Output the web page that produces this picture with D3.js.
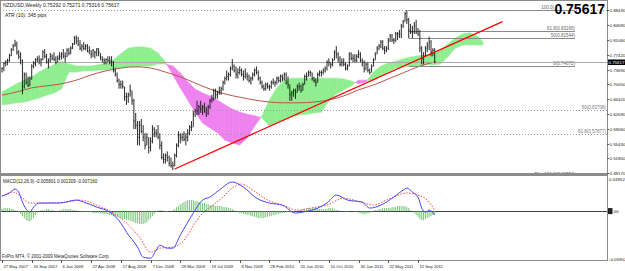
<!DOCTYPE html>
<html>
<head>
<meta charset="utf-8">
<script src="https://cdn.jsdelivr.net/npm/d3@7"></script>
<style>
  html, body { margin: 0; padding: 0; background: #fff; }
  svg { display: block; font-family: Arial, "Liberation Sans", sans-serif; }
</style>
</head>
<body>
<svg id="chart" width="625" height="271"></svg>
<script>
// ---- weekly NZDUSD bars, 27 May 2007 .. 13 Nov 2011 (one value per week) ----
var closes = [
  .740,.752,.756,.760,.772,.786,.796,.800,.780,.770,
  .760,.696,.725,.705,.698,.715,.746,.752,.762,.763,
  .760,.762,.780,.770,.756,.760,.770,.765,.762,.755,
  .765,.770,.775,.770,.770,.785,.778,.790,.800,.815,
  .808,.800,.790,.795,.790,.795,.782,.785,.775,.785,
  .780,.788,.780,.768,.762,.760,.762,.760,.758,.755,
  .735,.725,.710,.700,.700,.695,.670,.670,.675,.685,
  .660,.610,.600,.570,.600,.585,.570,.550,.570,.545,
  .560,.590,.580,.580,.570,.550,.520,.515,.525,.520,
  .505,.500,.500,.525,.550,.575,.570,.570,.565,.570,
  .580,.595,.595,.625,.635,.635,.645,.640,.645,.635,
  .630,.645,.660,.665,.685,.675,.680,.685,.690,.705,
  .715,.720,.725,.740,.745,.735,.725,.730,.735,.725,
  .720,.725,.720,.710,.715,.725,.735,.730,.715,.705,
  .695,.690,.700,.695,.695,.705,.705,.705,.715,.710,
  .720,.715,.725,.705,.700,.675,.680,.685,.680,.695,
  .695,.685,.700,.720,.720,.730,.730,.715,.710,.705,
  .725,.730,.730,.735,.740,.755,.755,.750,.760,.780,
  .775,.765,.750,.755,.750,.740,.745,.775,.765,.765,
  .760,.770,.775,.760,.755,.740,.750,.735,.730,.745,
  .760,.775,.790,.795,.805,.790,.785,.790,.810,.820,
  .810,.810,.825,.825,.825,.845,.855,.875,.860,.835,
  .830,.830,.845,.830,.825,.790,.765,.770,.790,.795,
  .805,.780,.785,.75617
];
var highs = [
  .743,.755,.760,.764,.776,.790,.800,.8106,.806,.785,
  .780,.762,.730,.730,.720,.720,.750,.758,.765,.770,
  .772,.765,.785,.788,.776,.765,.778,.775,.780,.770,
  .772,.780,.780,.788,.780,.790,.790,.795,.803,.820,
  .8214,.818,.810,.800,.805,.800,.800,.795,.785,.788,
  .783,.790,.790,.778,.770,.765,.765,.770,.770,.770,
  .758,.740,.730,.715,.710,.710,.695,.680,.680,.700,
  .685,.665,.630,.610,.610,.615,.600,.580,.580,.570,
  .570,.600,.595,.590,.600,.580,.560,.530,.530,.535,
  .525,.520,.510,.530,.555,.585,.580,.580,.585,.580,
  .590,.600,.610,.635,.640,.660,.650,.660,.650,.655,
  .645,.650,.665,.675,.690,.690,.685,.695,.695,.710,
  .720,.735,.730,.745,.763,.750,.745,.740,.745,.740,
  .735,.740,.730,.725,.720,.730,.740,.745,.735,.720,
  .710,.700,.705,.705,.700,.710,.715,.710,.720,.720,
  .725,.725,.730,.730,.720,.700,.685,.690,.690,.700,
  .705,.700,.705,.725,.730,.735,.735,.730,.720,.715,
  .730,.735,.735,.740,.745,.760,.765,.755,.765,.785,
  .795,.780,.770,.765,.765,.755,.750,.780,.780,.775,
  .775,.775,.785,.780,.765,.760,.755,.755,.740,.750,
  .765,.780,.795,.800,.810,.810,.795,.795,.815,.825,
  .825,.815,.830,.830,.835,.850,.860,.880,.8843,.865,
  .850,.845,.855,.860,.840,.835,.795,.780,.795,.805,
  .818,.810,.790,.790
];
var lows = [
  .730,.733,.745,.748,.756,.770,.783,.793,.774,.763,
  .750,.6763,.690,.700,.694,.696,.712,.740,.745,.755,
  .750,.745,.760,.765,.752,.740,.755,.760,.758,.750,
  .755,.760,.762,.765,.755,.768,.772,.775,.788,.798,
  .800,.795,.785,.782,.785,.785,.780,.775,.765,.768,
  .765,.770,.770,.760,.755,.750,.750,.755,.750,.745,
  .730,.720,.705,.690,.690,.690,.660,.650,.655,.670,
  .650,.590,.590,.550,.550,.580,.560,.540,.550,.530,
  .535,.555,.570,.570,.565,.540,.515,.505,.505,.510,
  .498,.495,.489,.498,.520,.545,.555,.560,.560,.550,
  .560,.575,.585,.595,.620,.625,.625,.630,.625,.630,
  .620,.625,.640,.655,.660,.665,.665,.675,.675,.685,
  .700,.710,.710,.720,.735,.730,.715,.715,.725,.720,
  .710,.715,.710,.705,.700,.710,.720,.725,.710,.700,
  .690,.685,.685,.690,.685,.690,.700,.695,.700,.705,
  .705,.708,.710,.700,.690,.660,.660,.670,.665,.680,
  .685,.680,.685,.700,.710,.720,.720,.710,.705,.695,
  .705,.720,.720,.725,.730,.735,.745,.740,.745,.760,
  .765,.755,.745,.745,.745,.735,.735,.745,.760,.755,
  .755,.755,.765,.755,.745,.730,.735,.730,.725,.730,
  .745,.760,.775,.785,.790,.785,.775,.780,.785,.805,
  .805,.800,.805,.810,.815,.815,.840,.855,.850,.815,
  .825,.815,.825,.825,.820,.780,.750,.750,.770,.780,
  .785,.770,.770,.753
];

// ---- Ichimoku cloud, read every 4 weeks (bar index, span A, span B) ----
var cloudBars = [0,4,8,12,16,20,24,28,32,36,40,44,48,52,56,60,64,68,72,76,80,84,88,92,96,
  100,104,108,112,116,120,124,128,132,136,140,144,148,152,156,160,164,168,172,176,180,
  184,188,192,196,200,204,208,212,216,220,224,228,232,236,240,244,248,252,256,259];
var spanA = [.682,.692,.702,.711,.719,.731,.741,.749,.758,.751,.746,.746,.746,.749,.753,
  .761,.776,.790,.793,.793,.790,.778,.756,.724,.692,.662,.632,.605,.593,.581,.563,.556,
  .551,.568,.598,.623,.662,.692,.711,.716,.716,.716,.716,.716,.716,.716,.714,.709,.702,
  .707,.731,.746,.753,.758,.763,.768,.771,.773,.778,.785,.800,.815,.825,.828,.820,.805];
var spanB = [.650,.652,.655,.657,.662,.667,.674,.679,.689,.731,.731,.734,.734,.736,.736,
  .739,.741,.744,.744,.746,.746,.751,.751,.746,.729,.707,.689,.679,.672,.662,.650,.640,
  .632,.627,.623,.618,.598,.605,.613,.620,.625,.627,.630,.632,.660,.677,.687,.697,.711,
  .711,.711,.721,.731,.741,.744,.746,.746,.749,.749,.751,.768,.790,.798,.798,.798,.798];

// ---- moving average, read every 8 weeks ----
var maBars = [0,8,16,24,32,40,48,56,64,72,80,88,96,104,112,120,128,136,144,152,160,168,
  176,184,192,200,208,216,224,233];
var maValues = [.674,.682,.692,.697,.702,.711,.724,.734,.741,.744,.741,.731,.719,.704,.689,
  .677,.669,.662,.657,.655,.655,.657,.662,.672,.687,.699,.714,.729,.744,.756];

// ---- trend line (bar, price) ----
var trendBars = [93, 269.5];
var trendPrices = [0.4916, 0.8554];

// ---- Fibonacci levels ----
var fibSolidPrices = [0.88430, 0.83166, 0.81544, 0.74672];
var fibSolidNames = ["100.0", "61.8", "50", "0"];
var fibDotPrices = [0.88430, 0.63708, 0.57877];
var fibDotNames = ["0.0", "50", "61.8"];

// ---- MACD (values x 0.001) ----
var macdMain = [[0,18.5],[4,22.2],[7,27.1],[9,23.4],[11,11.1],[15,-1.2],[17,4.9],[20,9.9],
  [31,9.9],[40,13.6],[44,11.1],[51,4.9],[58,-1.2],[64,-14.8],[67,-25.9],[73,-44.4],[76,-56.8],
  [80,-58.0],[83,-48.1],[85,-42.0],[89,-45.7],[92,-45.7],[96,-29.6],[103,-2.5],[108,13.6],
  [112,17.3],[117,25.9],[124,35.8],[130,29.6],[137,16.0],[144,9.9],[151,7.4],[158,-2.5],
  [162,-1.2],[170,3.7],[175,9.9],[180,19.7],[186,13.6],[194,11.1],[198,3.7],[204,7.4],
  [211,17.3],[216,25.9],[218,28.4],[221,23.4],[224,17.3],[226,3.7],[228,-1.2],[230,1.2],[233,-4.9]];
var macdSignal = [[0,18.5],[6,23.4],[11,16.0],[15,9.9],[22,9.9],[35,11.1],[42,13.6],[51,7.4],
  [60,-2.5],[67,-14.8],[74,-32.1],[80,-50.6],[85,-45.7],[92,-44.4],[97,-38.3],[105,-11.1],
  [108,-2.5],[113,6.2],[119,17.3],[124,28.4],[129,33.3],[135,25.9],[143,13.6],[151,7.4],
  [159,1.2],[166,3.7],[175,7.4],[184,16.0],[193,11.1],[200,7.4],[207,13.6],[218,22.2],
  [224,19.7],[229,13.6],[233,1.2]];
var macdHist = [
  2.5,3.7,3.7,3.7,3.7,2.5,2.5,1.2,0,-1.2,
  -3.7,-6.2,-8.6,-11.1,-12.3,-12.3,-11.1,-8.6,-4.9,-2.5,
  0,1.2,1.2,1.2,2.5,2.5,1.2,1.2,1.2,0,
  0,1.2,1.2,2.5,2.5,2.5,2.5,2.5,1.2,1.2,
  1.2,0,0,-1.2,-1.2,-1.2,-1.2,-1.2,-1.2,-2.5,
  -2.5,-2.5,-2.5,-2.5,-3.7,-3.7,-3.7,-3.7,-4.9,-4.9,
  -6.2,-6.2,-7.4,-7.4,-8.6,-9.9,-9.9,-11.1,-11.1,-12.3,
  -12.3,-13.6,-14.8,-14.8,-16.0,-16.0,-16.0,-14.8,-13.6,-11.1,
  -8.6,-6.2,-3.7,-1.2,0,1.2,1.2,0,-1.2,-1.2,
  0,0,1.2,2.5,4.9,6.2,8.6,9.9,11.1,12.3,
  13.6,13.6,13.6,13.6,12.3,12.3,11.1,11.1,9.9,9.9,
  8.6,8.6,7.4,7.4,7.4,6.2,6.2,6.2,6.2,4.9,
  4.9,4.9,3.7,3.7,2.5,1.2,0,-1.2,-2.5,-2.5,
  -3.7,-3.7,-4.9,-4.9,-6.2,-6.2,-7.4,-7.4,-8.6,-8.6,
  -8.6,-8.6,-7.4,-7.4,-6.2,-6.2,-4.9,-4.9,-3.7,-3.7,
  -2.5,-2.5,-2.5,-1.2,-1.2,-1.2,-1.2,-1.2,0,0,
  1.2,1.2,2.5,2.5,2.5,3.7,3.7,3.7,3.7,3.7,
  3.7,2.5,2.5,2.5,2.5,2.5,3.7,3.7,3.7,2.5,
  1.2,1.2,0,0,0,-1.2,-1.2,0,0,0,
  -1.2,-1.2,-2.5,-2.5,-3.7,-3.7,-3.7,-2.5,-2.5,-1.2,
  0,1.2,1.2,2.5,2.5,3.7,3.7,3.7,3.7,3.7,
  4.9,4.9,4.9,6.2,6.2,6.2,6.2,6.2,4.9,3.7,
  1.2,0,-2.5,-4.9,-7.4,-9.9,-11.1,-11.1,-9.9,-8.6,
  -7.4,-6.2,-4.9,-3.7
];

// ---- axes ----
var priceTicks = [0.88430, 0.84690, 0.81060, 0.77420, 0.73690, 0.70050, 0.66420,
  0.62690, 0.59060, 0.55430, 0.51800, 0.48170];
var dateTickBars = [0,16,32,48,64,80,96,112,128,144,160,176,192,208,224];
var dateTickLabels = ["27 May 2007","16 Sep 2007","6 Jan 2008","27 Apr 2008","17 Aug 2008",
  "7 Dec 2008","29 Mar 2009","19 Jul 2009","8 Nov 2009","28 Feb 2010","20 Jun 2010",
  "10 Oct 2010","30 Jan 2011","22 May 2011","12 Sep 2011"];
var lastPrice = 0.75617;

// ================= drawing =================
var svg = d3.select("#chart");
var R = 607;                       // right edge of plotting area
var x = d3.scaleLinear().domain([0, 224]).range([2, 418]);
var y = d3.scaleLinear().domain([0.4817, 0.8843]).range([173, 10]);
var my = d3.scaleLinear().domain([-59.02, 39.52]).range([259, 179]);

var defs = svg.append("defs");
defs.append("clipPath").attr("id", "clipMain")
  .append("rect").attr("x", 1).attr("y", 1).attr("width", R - 1).attr("height", 172);
defs.append("clipPath").attr("id", "clipMacd")
  .append("rect").attr("x", 1).attr("y", 176).attr("width", R - 1).attr("height", 84);

var main = svg.append("g").attr("clip-path", "url(#clipMain)");

// cloud
function cloudPoly(pts, green) {
  main.append("path")
    .attr("d", "M" + pts.map(function (p) { return x(p[0]) + "," + y(p[1]); }).join("L") + "Z")
    .attr("fill", green ? "#90ee90" : "#ee82ee")
    .attr("stroke", green ? "#90ee90" : "#ee82ee")
    .attr("stroke-width", 0.6);
}
for (var i = 0; i < cloudBars.length - 1; i++) {
  var b0 = cloudBars[i], b1 = cloudBars[i + 1];
  var a0 = spanA[i], a1 = spanA[i + 1], c0 = spanB[i], c1 = spanB[i + 1];
  var d0 = a0 - c0, d1 = a1 - c1;
  if (d0 * d1 < 0) {
    var t = d0 / (d0 - d1);
    var bm = b0 + t * (b1 - b0), pm = a0 + t * (a1 - a0);
    cloudPoly([[b0, a0], [bm, pm], [b0, c0]], d0 > 0);
    cloudPoly([[bm, pm], [b1, a1], [b1, c1]], d1 > 0);
  } else {
    cloudPoly([[b0, a0], [b1, a1], [b1, c1], [b0, c0]], d0 + d1 >= 0);
  }
}

// moving average
main.append("path")
  .datum(maBars.map(function (b, i) { return [b, maValues[i]]; }))
  .attr("d", d3.line().x(function (d) { return x(d[0]); }).y(function (d) { return y(d[1]); })
    .curve(d3.curveMonotoneX))
  .attr("fill", "none").attr("stroke", "#b8544e").attr("stroke-width", 1);

// fibonacci (dotted, full width)
fibDotPrices.forEach(function (p, i) {
  main.append("line")
    .attr("x1", 0).attr("x2", R)
    .attr("y1", Math.round(y(p)) + 0.5).attr("y2", Math.round(y(p)) + 0.5)
    .attr("stroke", "#9a9a9a").attr("stroke-dasharray", "1,2");
  if (i > 0) {
    main.append("text")
      .attr("x", R - 1).attr("y", Math.round(y(p)) - 1)
      .attr("text-anchor", "end").attr("font-size", 4.5).attr("fill", "#777")
      .text(fibDotNames[i] + "(" + p.toFixed(5) + ")");
  }
});
main.append("text")
  .attr("x", 575).attr("y", 176).attr("text-anchor", "end")
  .attr("font-size", 4.5).attr("fill", "#555").text("Fibo 161.8(0.48934)");

// fibonacci (solid, short)
fibSolidPrices.forEach(function (p, i) {
  main.append("line")
    .attr("x1", x(219)).attr("x2", 575)
    .attr("y1", Math.round(y(p)) + 0.5).attr("y2", Math.round(y(p)) + 0.5)
    .attr("stroke", "#8a8a8a");
  main.append("text")
    .attr("x", i === 0 ? 554 : 575).attr("y", Math.round(y(p)) - 1)
    .attr("text-anchor", "end").attr("font-size", 4.5).attr("fill", "#666")
    .text(i === 0 ? fibSolidNames[i] + "(" : fibSolidNames[i] + "(" + p.toFixed(5) + ")");
});

// bid line
main.append("line")
  .attr("x1", 0).attr("x2", R)
  .attr("y1", Math.round(y(lastPrice)) + 0.5).attr("y2", Math.round(y(lastPrice)) + 0.5)
  .attr("stroke", "#a8a8a8");

// price bars
var bars = main.append("g");
closes.forEach(function (c, i) {
  var bx = x(i);
  bars.append("line")
    .attr("x1", bx).attr("x2", bx).attr("y1", y(highs[i])).attr("y2", y(lows[i]))
    .attr("stroke", "#111").attr("stroke-width", 0.9);
  bars.append("line")
    .attr("x1", bx).attr("x2", bx + 1).attr("y1", y(c)).attr("y2", y(c))
    .attr("stroke", "#111").attr("stroke-width", 0.8);
});

// trend line
main.append("line")
  .attr("x1", x(trendBars[0])).attr("y1", y(trendPrices[0]))
  .attr("x2", x(trendBars[1])).attr("y2", y(trendPrices[1]))
  .attr("stroke", "#ff0000").attr("stroke-width", 1.3);

// titles
main.append("text").attr("x", 3).attr("y", 7).attr("font-size", 5).attr("fill", "#222")
  .text("NZDUSD,Weekly  0.75292 0.75271 0.75316 0.75617");
main.append("text").attr("x", 5).attr("y", 17).attr("font-size", 5).attr("fill", "#222")
  .text("ATR (10):  345 pips");

// big last price
main.append("text").attr("x", 605).attr("y", 13.5).attr("text-anchor", "end")
  .attr("font-size", 14).attr("font-weight", "bold").attr("fill", "#000")
  .text(lastPrice.toFixed(5));

// ---- MACD window ----
var sub = svg.append("g").attr("clip-path", "url(#clipMacd)");
sub.append("line").attr("x1", 0).attr("x2", R)
  .attr("y1", Math.round(my(0)) + 0.5).attr("y2", Math.round(my(0)) + 0.5)
  .attr("stroke", "#444").attr("stroke-width", 1);
macdHist.forEach(function (h, i) {
  sub.append("line")
    .attr("x1", x(i)).attr("x2", x(i)).attr("y1", my(0)).attr("y2", my(h))
    .attr("stroke", "#52b852").attr("stroke-width", 0.8);
});
var mline = d3.line().x(function (d) { return x(d[0]); }).y(function (d) { return my(d[1]); })
  .curve(d3.curveMonotoneX);
sub.append("path").datum(macdSignal).attr("d", mline)
  .attr("fill", "none").attr("stroke", "#ff4040").attr("stroke-width", 1)
  .attr("stroke-dasharray", "1.5,1.5");
sub.append("path").datum(macdMain).attr("d", mline)
  .attr("fill", "none").attr("stroke", "#4646ff").attr("stroke-width", 1);
sub.append("text").attr("x", 3).attr("y", 183).attr("font-size", 4.5).attr("fill", "#222")
  .text("MACD(12,26,9) -0.005801 0.001309 -0.007160");
sub.append("text").attr("x", 2).attr("y", 258).attr("font-size", 4.5).attr("fill", "#222")
  .text("FxPro MT4, \u00a9 2001-2009 MetaQuotes Software Corp.");

// ---- frames ----
svg.append("rect").attr("x", 0.5).attr("y", 0.5).attr("width", R).attr("height", 173)
  .attr("fill", "none").attr("stroke", "#8c8c8c");
svg.append("rect").attr("x", 0).attr("y", 173.5).attr("width", R + 1).attr("height", 2)
  .attr("fill", "#8c8c8c");
svg.append("rect").attr("x", 0.5).attr("y", 175.5).attr("width", R).attr("height", 85)
  .attr("fill", "none").attr("stroke", "#8c8c8c");

// right price axis
var axis = svg.append("g").attr("font-size", 4.4).attr("fill", "#222");
priceTicks.forEach(function (p) {
  var ty = Math.round(y(p)) + 0.5;
  axis.append("line").attr("x1", R).attr("x2", R + 2).attr("y1", ty).attr("y2", ty)
    .attr("stroke", "#555");
  axis.append("text").attr("x", R + 2.5).attr("y", ty + 1.6).text(p.toFixed(5));
});
var ly = Math.round(y(lastPrice));
axis.append("rect").attr("x", R + 1).attr("y", ly - 2.5).attr("width", 17).attr("height", 5.5)
  .attr("fill", "#000");
axis.append("text").attr("x", R + 1.5).attr("y", ly + 2).attr("fill", "#fff")
  .text(lastPrice.toFixed(5));

// MACD axis labels
[[39.52, "0.03952"], [-59.02, "-0.05902"]].forEach(function (d) {
  axis.append("text").attr("x", R + 2).attr("y", my(d[0]) + 1.6).text(d[1]);
});
axis.append("rect").attr("x", R + 1).attr("y", my(0) - 3).attr("width", 4.5).attr("height", 6)
  .attr("fill", "#222");
axis.append("text").attr("x", R + 5.5).attr("y", my(0) + 1.6).text(".00");

// date axis
dateTickBars.forEach(function (b, i) {
  var tx = Math.round(x(b)) + 0.5;
  axis.append("line").attr("x1", tx).attr("x2", tx).attr("y1", 260).attr("y2", 263)
    .attr("stroke", "#555");
  axis.append("text").attr("x", tx + 1).attr("y", 268).attr("font-size", 4.2)
    .text(dateTickLabels[i]);
});
</script>
</body>
</html>
